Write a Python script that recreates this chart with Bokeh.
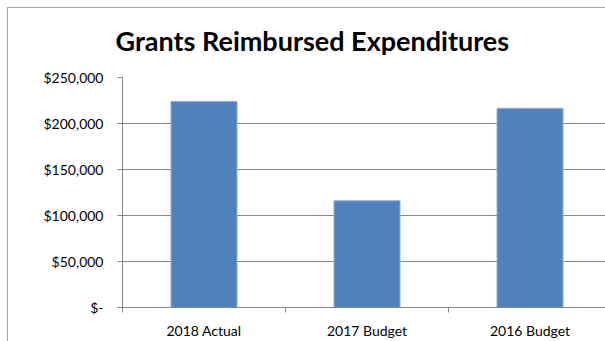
from bokeh.plotting import figure
from bokeh.models import FixedTicker, Range1d, NumeralTickFormatter, InlineStyleSheet
from bokeh.embed import file_html
from bokeh.resources import INLINE

title = "Grants Reimbursed Expenditures"
categories = ["2018 Actual", "2017 Budget", "2016 Budget"]
values = [224000, 116000, 216500]
y_ticks = [0, 50000, 100000, 150000, 200000, 250000]

xs = [i + 0.5 for i in range(len(categories))]

FRAME_L, FRAME_B = 122, 308

p = figure(width=605, height=341, output_backend="svg", toolbar_location=None,
           x_range=Range1d(0, 2.963), y_range=Range1d(0, 250000),
           min_border_left=FRAME_L, min_border_right=0, min_border_top=77,
           min_border_bottom=341 - FRAME_B, title=title)
p.outline_line_color = None
p.background_fill_color = "white"
p.border_fill_color = "white"

p.title.align = "left"
p.title.offset = -7
p.title.text_font = "Lato"
p.title.text_font_style = "bold"
p.title.text_font_size = "27px"
p.title.text_color = "#000000"
p.title.text_line_height = 0.6
p.title.standoff = 42

p.vbar(x=xs, top=values, width=0.405, bottom=0, fill_color="#4F81BD",
       line_color="#8FB0D8", line_width=1)

# Y axis
p.yaxis.ticker = FixedTicker(ticks=y_ticks, minor_ticks=[])
p.yaxis.formatter = NumeralTickFormatter(format="$0,0")
p.yaxis.major_label_overrides = {0: "$-"}
p.yaxis.axis_line_color = "#868686"
p.yaxis.major_tick_line_color = "#868686"
p.yaxis.major_tick_in = 0
p.yaxis.major_tick_out = 5
p.yaxis.major_label_standoff = 14
p.yaxis.major_label_text_font = "Lato"
p.yaxis.major_label_text_font_size = "14px"
p.yaxis.major_label_text_color = "#000000"
p.yaxis.minor_tick_line_color = None

# X axis
p.xaxis.ticker = FixedTicker(ticks=xs, minor_ticks=[0, 1, 2, 3])
p.xaxis.major_label_overrides = {x: c for x, c in zip(xs, categories)}
p.xaxis.axis_line_color = "#868686"
p.xaxis.major_tick_line_color = None
p.xaxis.minor_tick_line_color = "#868686"
p.xaxis.minor_tick_in = 0
p.xaxis.minor_tick_out = 5
p.xaxis.major_label_standoff = 8
p.xaxis.major_label_text_font = "Lato"
p.xaxis.major_label_text_font_size = "14px"
p.xaxis.major_label_text_color = "#000000"

p.xgrid.grid_line_color = None
p.ygrid.ticker = FixedTicker(ticks=y_ticks)
p.ygrid.grid_line_color = "#868686"

# Outer chart border, cropped at right/bottom as in the reference
p.stylesheets = [InlineStyleSheet(css="""
:host { position: relative; }
:host::after {
  content: ""; position: absolute; left: 7px; top: 7px; right: 0; bottom: 0;
  border-left: 1px solid #A6A6A6; border-top: 1px solid #A6A6A6;
  pointer-events: none; z-index: 10;
}
""")]

open("out.html", "w").write(file_html(p, INLINE))
